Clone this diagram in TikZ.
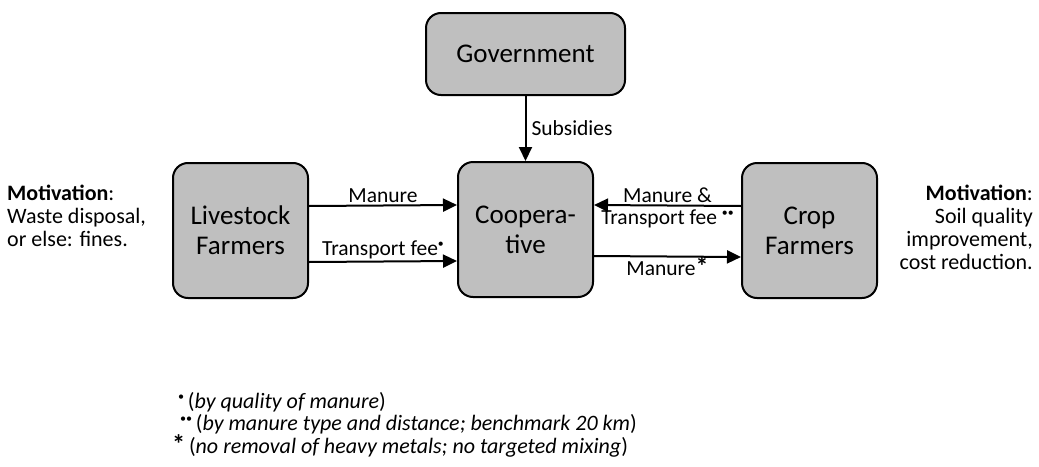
\documentclass[tikz,border=0pt]{standalone}
\usepackage{fontspec}
\setmainfont{Carlito}
\usetikzlibrary{arrows.meta}
\definecolor{boxgray}{HTML}{BFBFBF}
\newcommand{\fdot}{\raisebox{0.75ex}{\scalebox{0.55}{\textbullet}}}
\newcommand{\fstar}{\smash{\scalebox{1.2}{\textbf{*}}}}

\begin{document}
\begin{tikzpicture}[x=1pt,y=-1pt]
	\tikzset{
	  BoxStyle/.style = { draw, line width=2pt, fill=boxgray,
	                      rounded corners=15pt, align=center,
	                      minimum width=135pt, minimum height=135pt,
	                      font=\fontsize{27}{30}\selectfont },
	  LabelStyle/.style = { font=\fontsize{21.5}{26}\selectfont, inner sep=2pt },
	  NoteStyle/.style = { font=\fontsize{22}{23}\selectfont, align=left, inner sep=0pt },
	  EdgeStyle/.style = { line width=2pt, -{Triangle[length=14pt,width=13pt]} } }
	\useasboundingbox (0,0) rectangle (1039,466);
%	\draw[help lines] (0,0) grid[step=50] (1039,466);
	\node[BoxStyle, minimum width=199pt, minimum height=82pt] (gov) at (525.5,54) {Government};
	\node[BoxStyle] (live) at (240.5,230.5) {Livestock\\Farmers};
	\node[BoxStyle] (coop) at (525.5,229.5) {Coopera-\\tive};
	\node[BoxStyle] (crop) at (809.5,230.5) {Crop\\Farmers};
	% flows
	\draw[EdgeStyle] (gov) -- node[LabelStyle, right, xshift=3pt] {Subsidies} (coop);
	\draw[EdgeStyle] ([yshift=24.5pt]live.east) -- node[LabelStyle, above] {Manure} ([yshift=24.5pt]coop.west);
	\draw[EdgeStyle] ([yshift=-31.5pt]live.east) -- node[LabelStyle, above] {Transport fee\fdot} ([yshift=-31.5pt]coop.west);
	\draw[EdgeStyle] ([yshift=24.5pt]crop.west) -- node[LabelStyle, above] {Manure \&} node[LabelStyle, below, inner sep=3pt] {Transport fee \fdot\fdot} ([yshift=24.5pt]coop.east);
	\draw[EdgeStyle] ([yshift=-26.5pt]coop.east) -- node[LabelStyle, below, inner sep=4pt] {Manure\fstar} ([yshift=-26.5pt]crop.west);
	% motivations
	\node[NoteStyle, anchor=west] (motl) at (7,216) {\textbf{Motivation}:\\Waste disposal,\\or else: fines.};
	\node[NoteStyle, anchor=east, align=right] (motr) at (1033,227) {\textbf{Motivation}:\\Soil quality\\improvement,\\cost reduction.};
	% footnotes
	\node[NoteStyle, anchor=west] (fn1) at (178,402) {\fdot\,(\textit{by quality of manure})};
	\node[NoteStyle, anchor=west] (fn2) at (180,424.5) {\fdot\fdot\,(\textit{by manure type and distance; benchmark 20 km})};
	\node[NoteStyle, anchor=west] (fn3) at (172,447) {\fstar\,(\textit{no removal of heavy metals; no targeted mixing})};
\end{tikzpicture}
\end{document}
